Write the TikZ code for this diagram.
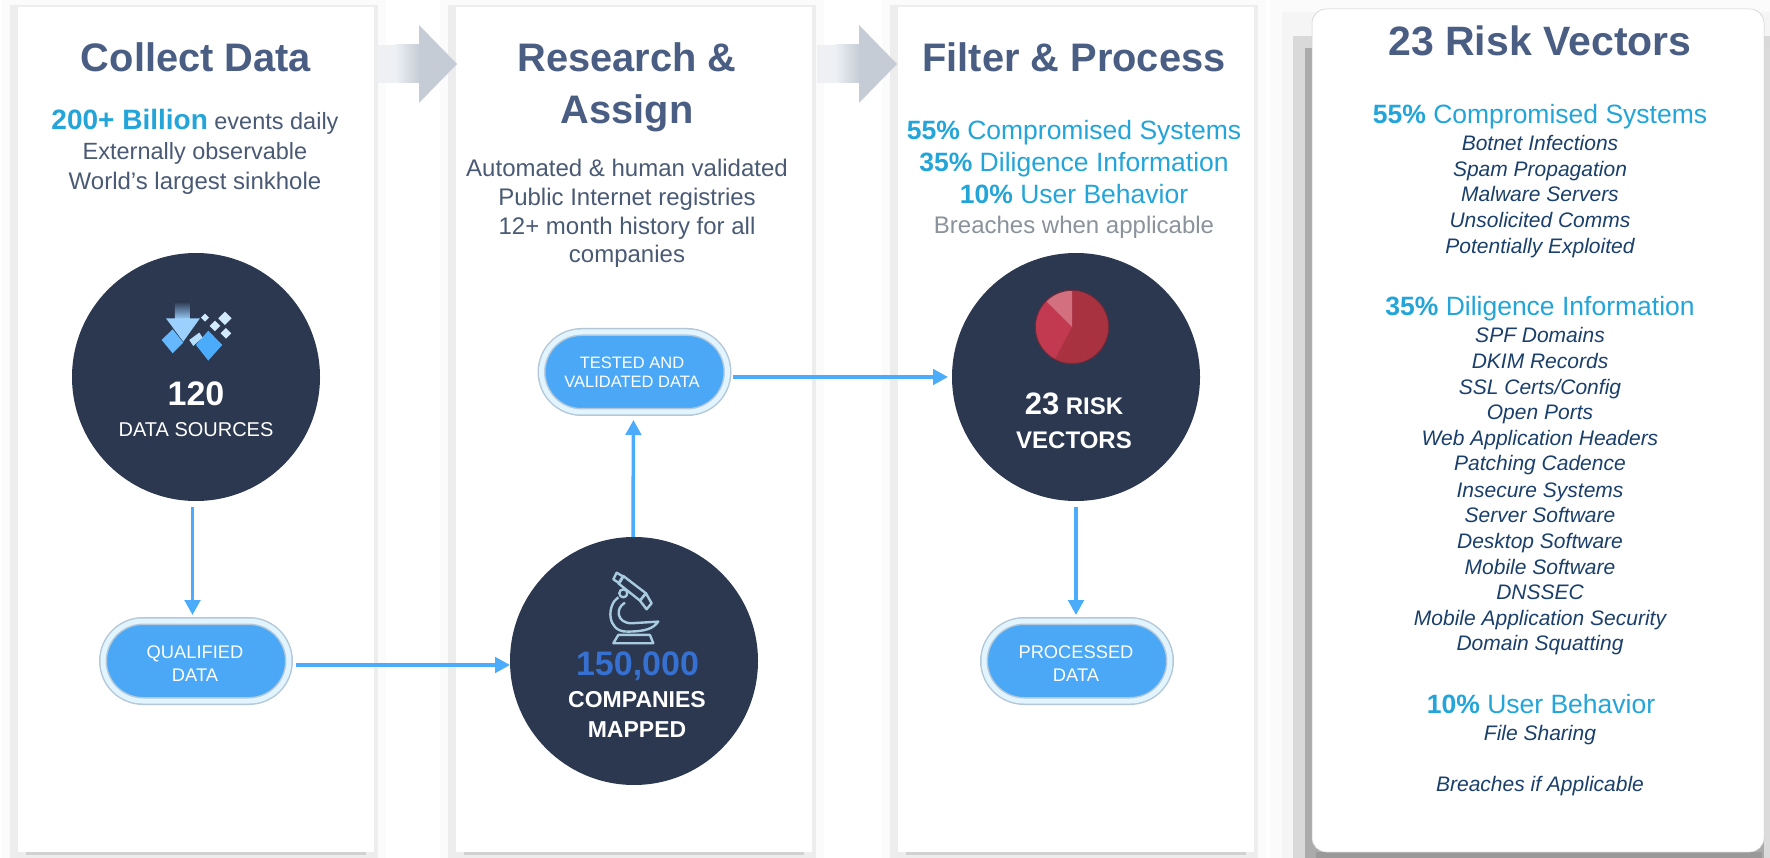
\documentclass[tikz,border=0pt]{standalone}
\usepackage{fontspec}
\setmainfont{Liberation Sans}
\usetikzlibrary{arrows.meta}

\definecolor{titleblue}{HTML}{4A5D83}
\definecolor{textslate}{HTML}{4A5A75}
\definecolor{cyanhead}{HTML}{23A5D9}
\definecolor{itemnavy}{HTML}{1A3F6B}
\definecolor{circlenavy}{HTML}{2C3850}
\definecolor{flowblue}{HTML}{4BACFB}
\definecolor{pillblue}{HTML}{4AA8F6}
\definecolor{pillrim}{HTML}{B4C8DA}
\definecolor{pillglow}{HTML}{E2F5FF}
\definecolor{bignumber}{HTML}{3670D0}
\definecolor{softgray}{HTML}{8A929C}
\definecolor{iconline}{HTML}{A9CBE0}
\definecolor{arrowlight}{HTML}{EEF0F4}
\definecolor{arrowdark}{HTML}{C5CCD6}
\definecolor{piedark}{HTML}{A83240}
\definecolor{piemid}{HTML}{C23A50}
\definecolor{pielight}{HTML}{D27080}
\definecolor{pieedge}{HTML}{6B2B3B}

\begin{document}
\begin{tikzpicture}[x=1pt,y=-1pt]
	\tikzstyle{every node}=[inner sep=0pt,outer sep=0pt]
	\tikzstyle{label}=[anchor=base,align=center]
	\tikzstyle{title}=[label,text=titleblue,font=\fontsize{39.8}{40}\selectfont\bfseries]
	\tikzstyle{subtext}=[label,text=textslate,font=\fontsize{24}{24}\selectfont]
	\tikzstyle{cyan line}=[label,text=cyanhead,font=\fontsize{26.5}{27}\selectfont]
	\tikzstyle{risk item}=[label,text=itemnavy,font=\fontsize{21}{21}\selectfont\itshape]
	\tikzstyle{circle label}=[label,text=white,font=\fontsize{24}{24}\selectfont\bfseries]
	\tikzstyle{pill label}=[label,text=white,font=\fontsize{18.3}{18.3}\selectfont]
	\tikzstyle{big circle}=[circle,fill=circlenavy,minimum size=248pt]
	\tikzstyle{pill}=[rectangle,rounded corners=40pt,minimum width=186pt,minimum height=80pt,
		fill=pillblue,draw=pillrim,double=pillglow,double distance=5pt,line width=1.5pt]
	\tikzstyle{flow}=[draw=flowblue,line width=3.5pt,-{Triangle[width=15.5pt,length=15pt]}]

	\useasboundingbox (0,0) rectangle (1770,858);

	% Draw the three column cards
	\foreach \x in {18,456,898} {
		\fill[black!1.5] (\x-16,0) rectangle (\x+368,858);
		\fill[black!7] (\x-8,5) rectangle (\x+360,858);
		\fill[black!18] (\x+8,852) rectangle (\x+348,855);
		\fill[white] (\x,7) rectangle (\x+356,852);
	}

	% Draw the panel on the right with its stepped shadow
	\fill[black!1.5] (1270,0) rectangle (1770,858);
	\fill[black!4] (1282,12) rectangle (1770,858);
	\fill[black!15] (1293,36) rectangle (1770,858);
	\fill[black!33] (1305,48) rectangle (1764,858);
	\fill[black!14] (1764,48) rectangle (1770,858);
	\fill[black!40] (1316,852) rectangle (1762,858);
	\fill[white,draw=black!20,line width=.5pt,rounded corners=14pt] (1312,9) rectangle (1764,852);

	% Draw the grey arrows between the cards
	\foreach \dx in {0,440} {
		\fill[arrowlight] (377+\dx,45) rectangle (396+\dx,83);
		\shade[left color=arrowlight,right color=arrowdark] (395+\dx,45) rectangle (420+\dx,83);
		\fill[arrowdark] (419+\dx,25) -- (457+\dx,64) -- (419+\dx,103) -- cycle;
	}

	% Draw the circles and the pills
	\node[big circle] (sources) at (196,377) {};
	\node[big circle] (companies) at (634,661) {};
	\node[big circle] (vectors) at (1076,377) {};
	\node[pill] (qualified) at (196,661) {};
	\node[pill] (tested) at (634.5,372) {};
	\node[pill] (processed) at (1077,661) {};

	% Connect the circles and the pills
	\draw[flow,shorten <=6pt,shorten >=6pt] ([xshift=-3.5pt]sources.south) -- ([xshift=-3.5pt]qualified.north);
	\draw[flow,shorten <=7pt] ([yshift=-4pt]qualified.east) -- ([yshift=-4pt]companies.west);
	\draw[flow,shorten >=8pt] ([xshift=-1pt]companies.north) -- ([xshift=-1pt]tested.south);
	\draw[flow,shorten <=5.5pt,shorten >=4pt] ([yshift=-5pt]tested.east) -- (vectors.west);
	\draw[flow,shorten <=6pt,shorten >=6pt] (vectors.south) -- ([xshift=-1pt]processed.north);

	% Annotate the pills
	\node[pill label] (qualified-a) at (195,658) {QUALIFIED};
	\node[pill label] (qualified-b) at (195,681) {DATA};
	\node[pill label,font=\fontsize{16.5}{16.5}\selectfont] (tested-a) at (632,369) {TESTED AND};
	\node[pill label,font=\fontsize{16.5}{16.5}\selectfont] (tested-b) at (632,388) {VALIDATED DATA};
	\node[pill label] (processed-a) at (1076,658) {PROCESSED};
	\node[pill label] (processed-b) at (1076,681) {DATA};

	% Collect Data column
	\node[title] (collect) at (196,72) {Collect Data};
	\node[subtext,font=\fontsize{23.5}{24}\selectfont] (billion) at (195,130) {\textcolor{cyanhead}{\fontsize{28}{28}\selectfont\bfseries 200+ Billion} events daily};
	\node[subtext,font=\fontsize{23.5}{24}\selectfont] (observable) at (195,160) {Externally observable};
	\node[subtext] (sinkhole) at (195,190) {World’s largest sinkhole};
	\node[circle label,font=\fontsize{34}{34}\selectfont\bfseries] (count-a) at (196,406) {120};
	\node[circle label,font=\fontsize{20}{20}\selectfont] (count-b) at (196,436) {DATA SOURCES};

	% Research column
	\node[title] (research) at (627,72) {Research \&};
	\node[title] (assign) at (627,124) {Assign};
	\foreach \name/\y/\txt in {auto/177/Automated \& human validated,public/206/Public Internet registries,
		history/235/12+ month history for all,comp/263/companies}
		\node[subtext] (T-\name) at (627,\y) {\txt};
	\node[circle label,text=bignumber,font=\fontsize{34}{34}\selectfont\bfseries] (count-c) at (637.5,675) {150,000};
	\node[circle label,font=\fontsize{23}{23}\selectfont\bfseries] (count-d) at (637,707.5) {COMPANIES};
	\node[circle label,font=\fontsize{23}{23}\selectfont\bfseries] (count-e) at (637,737) {MAPPED};

	% Filter column
	\node[title] (filter) at (1074,72) {Filter \& Process};
	\node[cyan line] (F-1) at (1074,140) {\textbf{55\%} Compromised Systems};
	\node[cyan line] (F-2) at (1074,172) {\textbf{35\%} Diligence Information};
	\node[cyan line] (F-3) at (1074,204) {\textbf{10\%} User Behavior};
	\node[subtext,text=softgray] (F-4) at (1074,234) {Breaches when applicable};
	\node[circle label] (count-f) at (1074,415) {{\fontsize{31}{31}\selectfont 23} RISK};
	\node[circle label] (count-g) at (1074,448) {VECTORS};

	% Right panel
	\node[title,font=\fontsize{41}{41}\selectfont\bfseries] (panel) at (1540,56) {23 Risk Vectors};
	\node[cyan line] (H-1) at (1540,124) {\textbf{55\%} Compromised Systems};
	\node[cyan line] (H-2) at (1540,316) {\textbf{35\%} Diligence Information};
	\node[cyan line] (H-3) at (1541,713) {\textbf{10\%} User Behavior};
	\foreach \name/\y/\txt in {1/151/Botnet Infections,2/177/Spam Propagation,3/202/Malware Servers,
		4/228/Unsolicited Comms,5/254/Potentially Exploited,6/343/SPF Domains,7/369/DKIM Records,
		8/395/{SSL Certs/Config},9/420/Open Ports,10/446/Web Application Headers,11/471/Patching Cadence,
		12/497/Insecure Systems,13/522/Server Software,14/548/Desktop Software,15/574/Mobile Software,
		16/599/DNSSEC,17/625/Mobile Application Security,18/650/Domain Squatting,19/740/File Sharing,
		20/791/Breaches if Applicable}
		\node[risk item] (R-\name) at (1540,\y) {\txt};

	% Icon of the first circle
	\begin{scope}[shift={(140,290)},x=.333pt,y=-.333pt]
		\shade[top color=circlenavy,bottom color=flowblue!55!white] (105,35) rectangle (150,90);
		\fill[flowblue!55!white] (78,85) -- (180,85) -- (130,155) -- cycle;
		\fill[flowblue!85!white] (65,150) -- (98,118) -- (130,158) -- (98,190) -- cycle;
		\fill[flowblue] (205,122) -- (247,165) -- (205,212) -- (168,165) -- cycle;
		\fill[flowblue!40!white] (148,150) -- (178,128) -- (188,143) -- (160,168) -- cycle;
		\foreach \cx/\cy/\r in {195/83/12,225/108/16,255/85/20,258/130/16}
			\fill[flowblue!25!white] (\cx-\r,\cy) -- (\cx,\cy-\r) -- (\cx+\r,\cy) -- (\cx,\cy+\r) -- cycle;
	\end{scope}

	% Icon of the second circle
	\begin{scope}[shift={(590,560)},x=.333pt,y=-.333pt,draw=iconline,line width=2.4pt,line join=round]
		\draw (100,48) -- (168,100) -- (150,122) -- (85,70) -- cycle;
		\draw (80,38) -- (100,50) -- (88,70) -- (70,58) -- cycle;
		\draw (150,122) -- (168,100) -- (185,130) -- (170,148) -- cycle;
		\draw (100,100) circle[radius=4pt];
		\draw (85,112) .. controls (50,135) and (50,215) .. (110,215);
		\draw (105,128) .. controls (75,145) and (80,190) .. (125,190) -- (205,185) .. controls (190,205) and (170,215) .. (110,215);
		\draw (85,225) -- (180,225) -- (190,250) -- (70,250) -- cycle;
	\end{scope}

	% Icon of the third circle
	\begin{scope}[shift={(1072,327)}]
		\begin{scope}
			\clip (0,0) circle[radius=36.7pt];
			\fill[piedark] (-50,-50) rectangle (50,50);
			\fill[piemid] (0,0) -- (-30,56) -- (-80,56) -- (-80,-44) -- (-44,-44) -- cycle;
			\fill[pielight] (0,0) -- (-44,-44) -- (-44,-80) -- (0,-80) -- cycle;
		\end{scope}
		\draw[pieedge,line width=1pt] (0,0) circle[radius=36.7pt];
	\end{scope}
\end{tikzpicture}
\end{document}
